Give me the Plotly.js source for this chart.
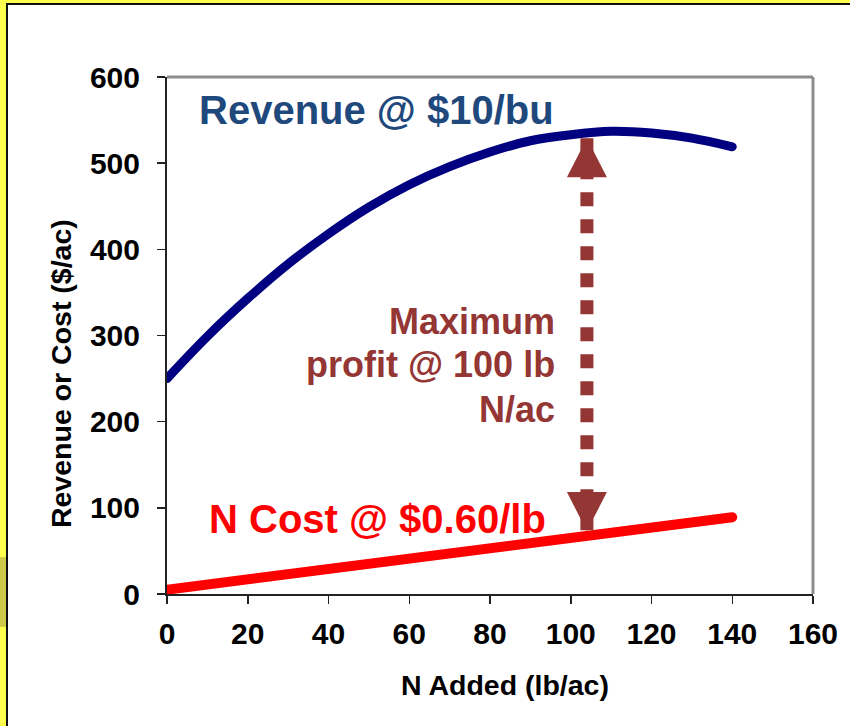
<!DOCTYPE html>
<html>
<head>
<meta charset="utf-8">
<script src="https://cdn.plot.ly/plotly-3.0.1.min.js"></script>
<style>
  html, body { margin: 0; padding: 0; background: #ffffff; }
  #wrap { position: relative; width: 850px; height: 726px; overflow: hidden; }
  #chart { position: absolute; left: 0; top: 0; width: 850px; height: 726px; }
  .bandL { position: absolute; left: 0; top: 0; width: 6px; height: 726px; background: #ffff4d; }
  .bandT { position: absolute; left: 0; top: 0; width: 850px; height: 3px; background: #ffff4d; }
  .lineL { position: absolute; left: 6px; top: 3px; width: 2px; height: 723px; background: #111; }
  .lineT { position: absolute; left: 6px; top: 3px; width: 844px; height: 2px; background: #111; }
  .shade { position: absolute; left: -30px; top: 557px; width: 70px; height: 70px; border-radius: 50%; background: #cfc94a; }
  .clip { position: absolute; left: 0; top: 0; width: 6px; height: 726px; overflow: hidden; }
  .scatterlayer .trace:nth-child(1) path.js-line,
  .scatterlayer .trace:nth-child(2) path.js-line { stroke-linecap: round; }
</style>
</head>
<body>
<div id="wrap">
  <div id="chart"></div>
  <div class="bandL"></div>
  <div class="clip"><div class="shade"></div></div>
  <div class="bandT"></div>
  <div class="lineL"></div>
  <div class="lineT"></div>
</div>
<script>
// ---- data ----
var nAdded  = [0, 10, 20, 30, 40, 50, 60, 70, 80, 90, 100, 110, 120, 130, 140];
var revenue = [250, 299, 343, 383, 418, 449, 475, 496, 513, 526, 533, 537, 535, 529, 519];
var costX   = [0, 140];
var cost    = [5, 89];
var profitX = [104];       // where the maximum-profit arrow is drawn
var profitTop = [529];     // arrow tip at revenue curve
var profitBottom = [73];   // arrow tip at cost line
var xTicks = [0, 20, 40, 60, 80, 100, 120, 140, 160];
var yTicks = [0, 100, 200, 300, 400, 500, 600];
var profitLines = ['Maximum', 'profit @ 100 lb', 'N/ac'];

var navy = '#000080', red = '#ff0000', brown = '#943634', blueText = '#1f497d';
var fontFam = 'Liberation Sans, Arial, sans-serif';

var traces = [
  { x: nAdded, y: revenue, type: 'scatter', mode: 'lines', line: { color: navy, width: 9, shape: 'spline' }, hoverinfo: 'skip' },
  { x: costX, y: cost, type: 'scatter', mode: 'lines', line: { color: red, width: 10 }, hoverinfo: 'skip' },
  { x: [profitX[0], profitX[0]], y: [profitTop[0], profitBottom[0]], type: 'scatter', mode: 'lines',
    line: { color: brown, width: 13, dash: '14px,13px' }, hoverinfo: 'skip' }
];

var bold = function (size, color) { return { size: size, family: fontFam, weight: 'bold', color: color }; };

var annotations = [
  { x: 7.4, y: 562, xref: 'x', yref: 'y', xanchor: 'left', yanchor: 'middle', showarrow: false,
    text: 'Revenue @ $10/bu', font: bold(40, blueText) },
  { x: 9.9, y: 87, xref: 'x', yref: 'y', xanchor: 'left', yanchor: 'middle', showarrow: false,
    text: 'N Cost @ $0.60/lb', font: bold(40, red) },
  { x: 0.523, y: -0.176, xref: 'paper', yref: 'paper', xanchor: 'center', yanchor: 'middle', showarrow: false,
    text: 'N Added (lb/ac)', font: bold(28.5, '#000') },
  { x: -0.164, y: 0.4255, xref: 'paper', yref: 'paper', xanchor: 'center', yanchor: 'middle', showarrow: false,
    textangle: -90, text: 'Revenue or Cost ($/ac)', font: bold(28.5, '#000') }
];
var lineY = [315.7, 265.8, 214.7];
profitLines.forEach(function (t, i) {
  annotations.push({ x: 96.6, y: lineY[i], xref: 'x', yref: 'y', xanchor: 'right', yanchor: 'middle',
    showarrow: false, text: t, font: bold(36, brown) });
});

var layout = {
  width: 850, height: 726,
  margin: { l: 167, r: 37, t: 77, b: 132 },
  paper_bgcolor: '#ffffff', plot_bgcolor: '#ffffff',
  showlegend: false,
  font: { family: fontFam, color: '#000' },
  xaxis: {
    range: [0, 160], tickvals: xTicks, ticktext: xTicks.map(String),
    showgrid: false, zeroline: false, showline: true, linecolor: '#222', linewidth: 2,
    ticks: 'outside', ticklen: 8, tickwidth: 1.5, tickcolor: '#222',
    tickfont: bold(30, '#000'), ticklabelstandoff: 4
  },
  yaxis: {
    range: [0, 600], tickvals: yTicks, ticktext: yTicks.map(String),
    showgrid: false, zeroline: false, showline: true, linecolor: '#222', linewidth: 2,
    ticks: 'outside', ticklen: 8, tickwidth: 1.5, tickcolor: '#222',
    tickfont: bold(30, '#000'), ticklabelstandoff: 11
  },
  shapes: [
    { type: 'line', xref: 'paper', yref: 'paper', x0: 0, x1: 1, y0: 1, y1: 1, line: { color: '#8c8c8c', width: 3 } },
    { type: 'line', xref: 'paper', yref: 'paper', x0: 1, x1: 1, y0: 0, y1: 1, line: { color: '#8c8c8c', width: 3 } },
    { type: 'path', xref: 'x', yref: 'y', xsizemode: 'pixel', ysizemode: 'pixel',
      xanchor: profitX[0], yanchor: profitTop[0], path: 'M0,0 L-20,-39 L20,-39 Z',
      fillcolor: brown, line: { width: 0 } },
    { type: 'path', xref: 'x', yref: 'y', xsizemode: 'pixel', ysizemode: 'pixel',
      xanchor: profitX[0], yanchor: profitBottom[0], path: 'M0,0 L-20,39 L20,39 Z',
      fillcolor: brown, line: { width: 0 } }
  ],
  annotations: annotations
};

Plotly.newPlot('chart', traces, layout, { displayModeBar: false, staticPlot: true });
</script>
</body>
</html>
